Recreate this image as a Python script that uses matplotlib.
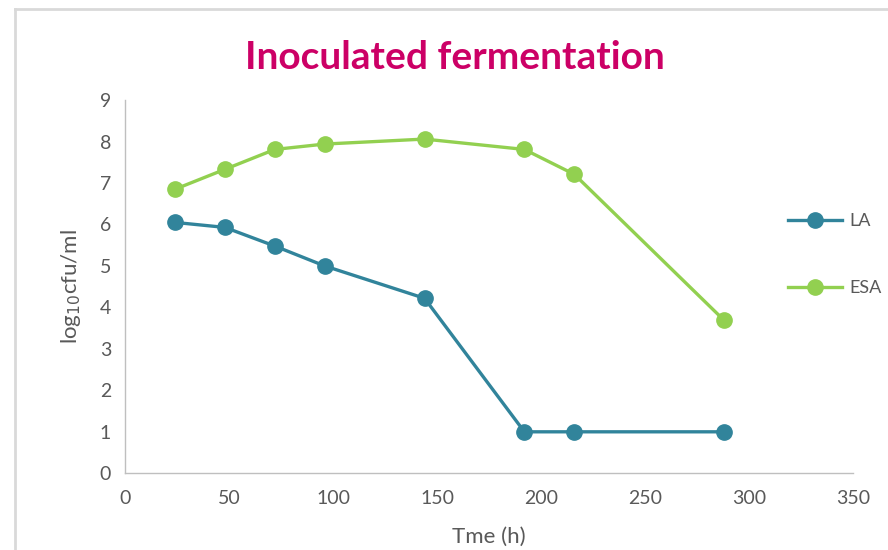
import matplotlib
matplotlib.use("Agg")
import matplotlib.pyplot as plt
from matplotlib.lines import Line2D

# Sampling times (h) and viable counts (log10 cfu/ml)
time_h = [24, 48, 72, 96, 144, 192, 216, 288]
la_counts = [6.05, 5.93, 5.48, 5.00, 4.22, 1.00, 1.00, 1.00]
esa_counts = [6.85, 7.33, 7.81, 7.94, 8.06, 7.81, 7.21, 3.69]
series_names = ["LA", "ESA"]
x_ticks = [0, 50, 100, 150, 200, 250, 300, 350]
y_ticks = [0, 1, 2, 3, 4, 5, 6, 7, 8, 9]

la_color = "#31849B"
esa_color = "#92D050"
text_gray = "#595959"
axis_gray = "#BFBFBF"

plt.rcParams["font.family"] = ["Lato", "DejaVu Sans"]

fig = plt.figure(figsize=(8.88, 5.5), dpi=100)
ax = fig.add_axes([0.1408, 0.1395, 0.8198, 0.6785])

ax.plot(time_h, la_counts, color=la_color, lw=2.4, marker="o", ms=11,
        label=series_names[0])
ax.plot(time_h, esa_counts, color=esa_color, lw=2.4, marker="o", ms=11,
        label=series_names[1])

ax.set_xlim(0, 350)
ax.set_ylim(0, 9)
ax.set_xticks(x_ticks)
ax.set_yticks(y_ticks)
ax.tick_params(length=0, labelsize=14, labelcolor=text_gray)
ax.tick_params(axis="x", pad=12)
ax.tick_params(axis="y", pad=10)
for side in ("top", "right"):
    ax.spines[side].set_visible(False)
for side in ("left", "bottom"):
    ax.spines[side].set_color(axis_gray)
    ax.spines[side].set_linewidth(1.0)

ax.set_xlabel("Tme (h)", fontsize=16, color=text_gray, labelpad=14)
ax.set_ylabel(r"log$_{10}$cfu/ml", fontsize=16, color=text_gray, labelpad=12)

fig.text(0.512, 0.896, "Inoculated fermentation", ha="center", va="center",
         fontsize=28, fontweight="bold", color="#CC0066")

leg = fig.legend(loc="center left", bbox_to_anchor=(0.869, 0.537),
                 frameon=False, fontsize=13, handlelength=3.0,
                 handletextpad=0.4, labelspacing=2.85, labelcolor=text_gray)

# Outer chart border (left and top edges)
fig.add_artist(Line2D([0.017, 0.017], [0.0, 0.984], transform=fig.transFigure,
                      color="#D9D9D9", lw=2))
fig.add_artist(Line2D([0.017, 1.0], [0.984, 0.984], transform=fig.transFigure,
                      color="#D9D9D9", lw=2))

fig.savefig("out.png", dpi=100)
